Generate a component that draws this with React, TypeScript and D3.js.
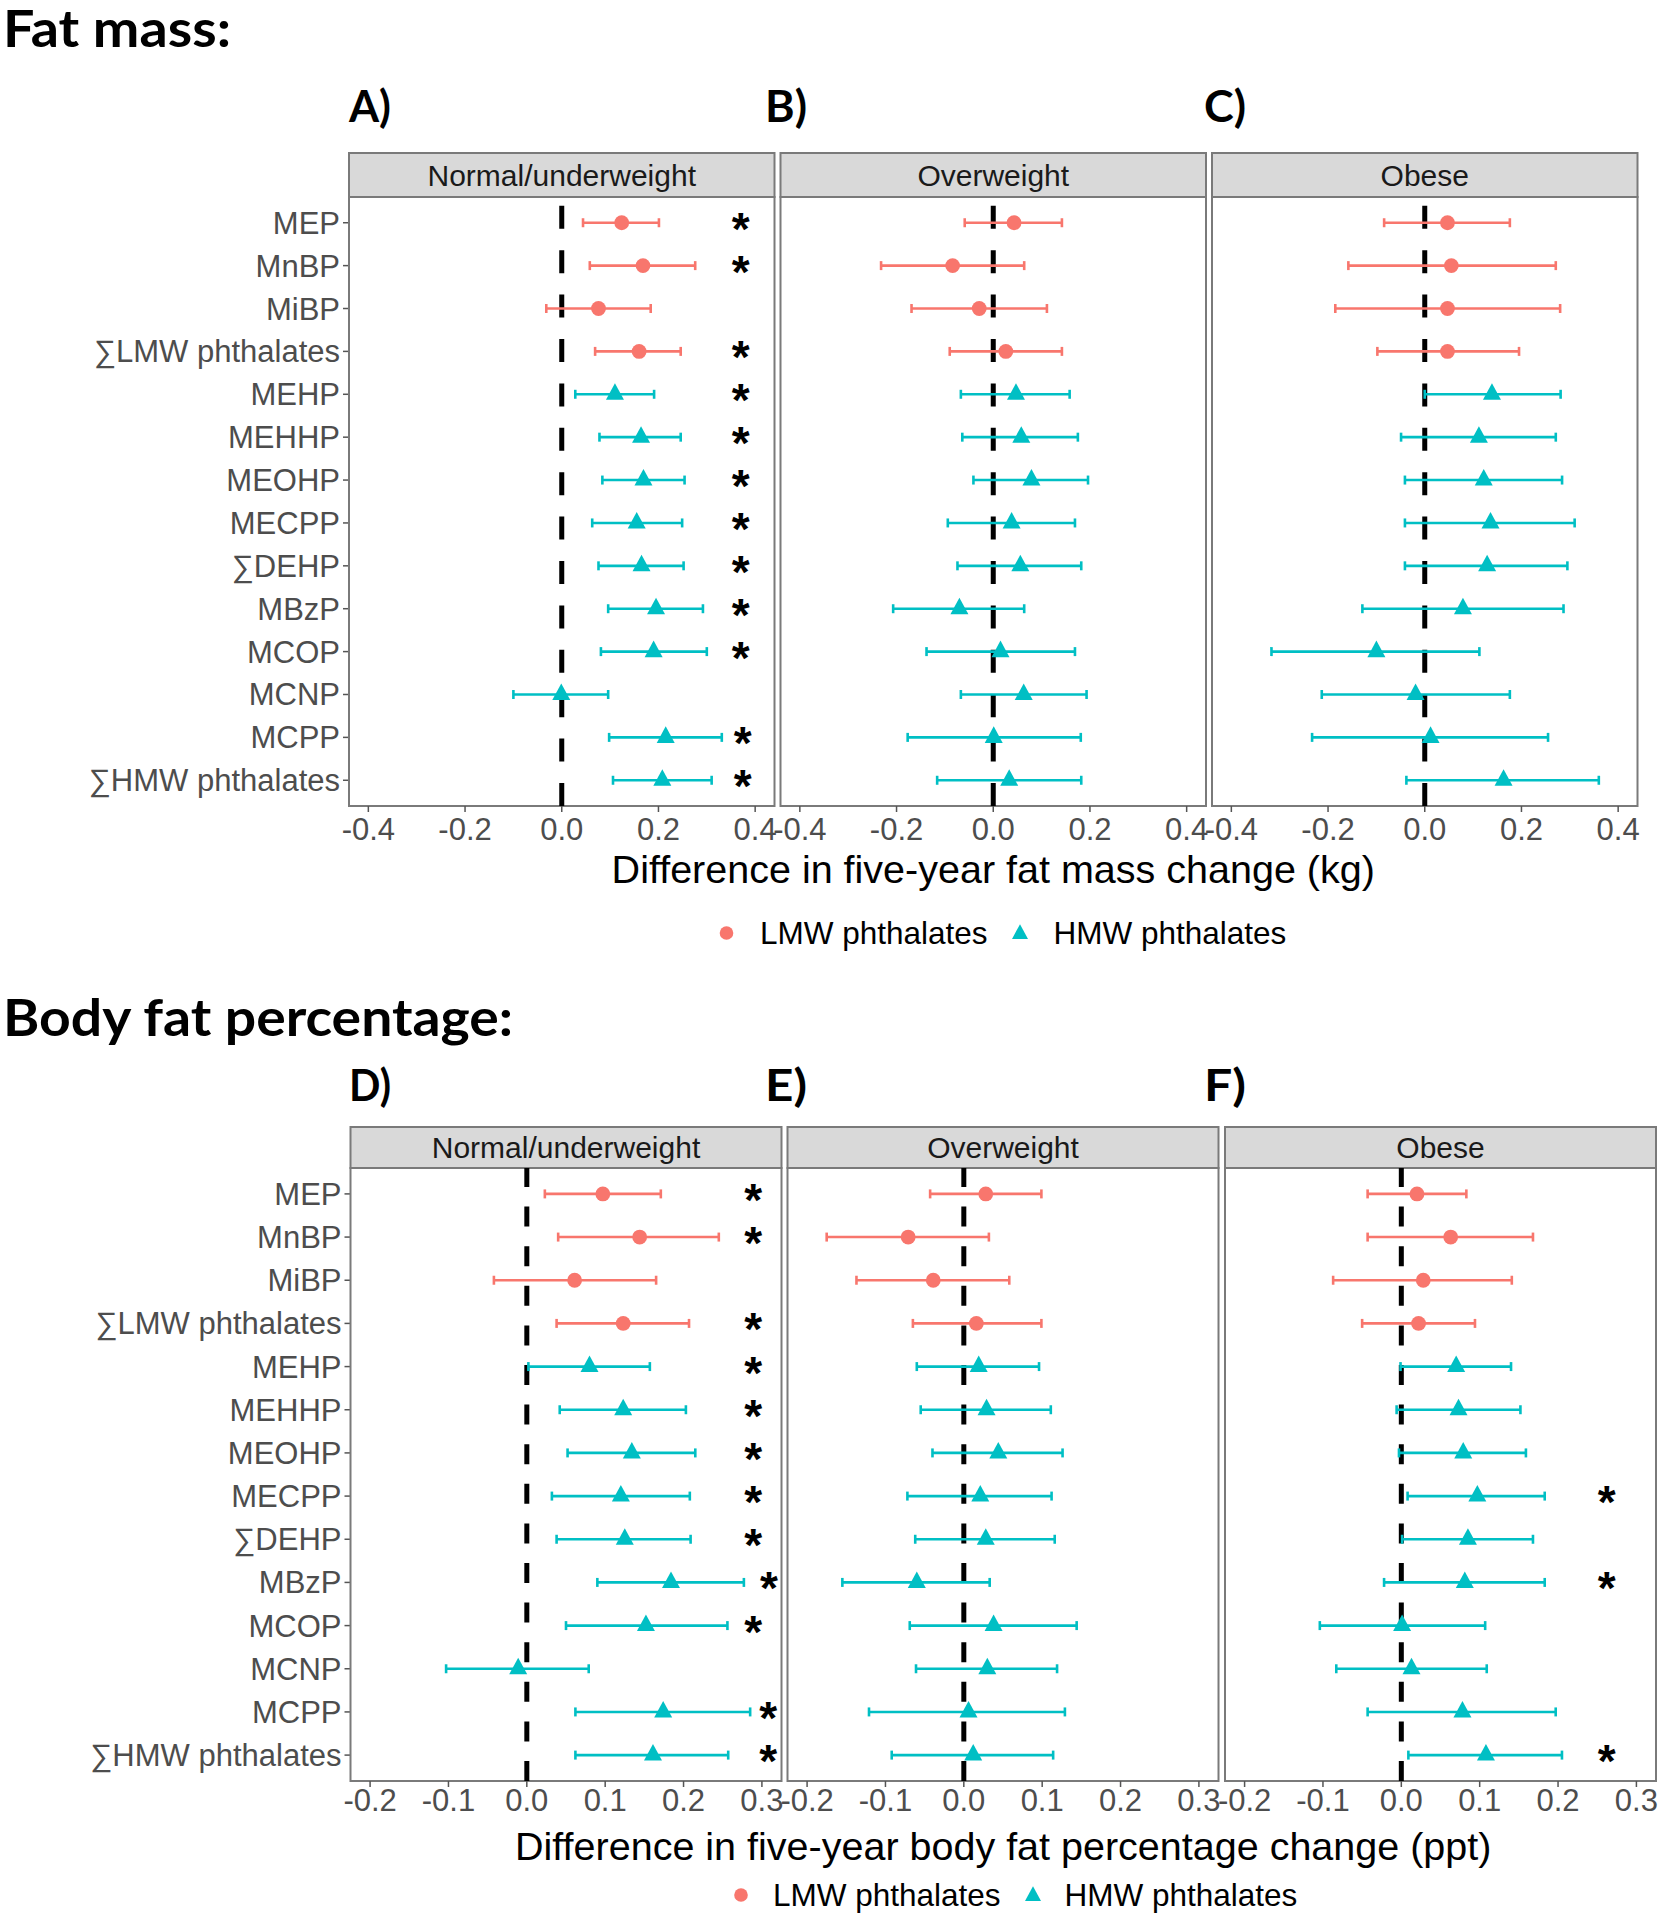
import React from "react";
import * as d3 from "d3";

// ---------- data ----------
const categories = [
  "MEP", "MnBP", "MiBP", "∑LMW phthalates", "MEHP", "MEHHP", "MEOHP",
  "MECPP", "∑DEHP", "MBzP", "MCOP", "MCNP", "MCPP", "∑HMW phthalates",
];
const groupOf = ["LMW", "LMW", "LMW", "LMW", "HMW", "HMW", "HMW", "HMW", "HMW", "HMW", "HMW", "HMW", "HMW", "HMW"];
const strata = ["Normal/underweight", "Overweight", "Obese"];
const legendLabels = ["LMW phthalates", "HMW phthalates"];

const fmTicks = [-0.4, -0.2, 0, 0.2, 0.4];
const bfTicks = [-0.2, -0.1, 0, 0.1, 0.2, 0.3];

// Fat mass – Normal/underweight
const fmNormEst = [0.124, 0.168, 0.076, 0.160, 0.110, 0.164, 0.169, 0.155, 0.165, 0.195, 0.190, -0.001, 0.215, 0.208];
const fmNormLo = [0.044, 0.058, -0.032, 0.069, 0.028, 0.078, 0.084, 0.063, 0.076, 0.096, 0.081, -0.100, 0.098, 0.106];
const fmNormHi = [0.201, 0.276, 0.184, 0.246, 0.191, 0.246, 0.254, 0.249, 0.252, 0.292, 0.300, 0.096, 0.331, 0.310];
const fmNormStar = [0.37, 0.37, null, 0.37, 0.37, 0.37, 0.37, 0.37, 0.37, 0.37, 0.37, null, 0.374, 0.374];
// Fat mass – Overweight
const fmOverEst = [0.043, -0.084, -0.029, 0.026, 0.047, 0.058, 0.079, 0.038, 0.056, -0.070, 0.015, 0.063, 0.001, 0.033];
const fmOverLo = [-0.059, -0.232, -0.169, -0.090, -0.067, -0.064, -0.041, -0.094, -0.074, -0.207, -0.138, -0.067, -0.177, -0.116];
const fmOverHi = [0.142, 0.064, 0.111, 0.142, 0.158, 0.175, 0.196, 0.169, 0.182, 0.064, 0.169, 0.193, 0.181, 0.182];
const fmOverStar = [null, null, null, null, null, null, null, null, null, null, null, null, null, null];
// Fat mass – Obese
const fmObEst = [0.047, 0.055, 0.047, 0.047, 0.139, 0.112, 0.122, 0.136, 0.129, 0.079, -0.100, -0.019, 0.012, 0.163];
const fmObLo = [-0.084, -0.158, -0.185, -0.098, 0.000, -0.049, -0.041, -0.041, -0.041, -0.129, -0.317, -0.213, -0.233, -0.038];
const fmObHi = [0.176, 0.271, 0.280, 0.195, 0.281, 0.271, 0.284, 0.310, 0.295, 0.287, 0.113, 0.176, 0.255, 0.360];
const fmObStar = [null, null, null, null, null, null, null, null, null, null, null, null, null, null];

// Body fat % – Normal/underweight
const bfNormEst = [0.097, 0.144, 0.061, 0.123, 0.080, 0.123, 0.134, 0.120, 0.125, 0.184, 0.152, -0.011, 0.174, 0.161];
const bfNormLo = [0.023, 0.040, -0.042, 0.038, 0.002, 0.042, 0.052, 0.032, 0.038, 0.090, 0.050, -0.103, 0.062, 0.062];
const bfNormHi = [0.171, 0.245, 0.165, 0.207, 0.157, 0.203, 0.215, 0.208, 0.209, 0.277, 0.256, 0.079, 0.285, 0.257];
const bfNormStar = [0.289, 0.289, null, 0.289, 0.289, 0.289, 0.289, 0.289, 0.289, 0.309, 0.289, null, 0.308, 0.308];
// Body fat % – Overweight
const bfOverEst = [0.028, -0.071, -0.039, 0.016, 0.019, 0.029, 0.044, 0.021, 0.028, -0.060, 0.038, 0.030, 0.006, 0.012];
const bfOverLo = [-0.043, -0.175, -0.137, -0.065, -0.060, -0.055, -0.040, -0.072, -0.062, -0.155, -0.069, -0.061, -0.121, -0.092];
const bfOverHi = [0.099, 0.032, 0.058, 0.099, 0.096, 0.111, 0.126, 0.112, 0.116, 0.033, 0.144, 0.119, 0.129, 0.114];
const bfOverStar = [null, null, null, null, null, null, null, null, null, null, null, null, null, null];
// Body fat % – Obese
const bfObEst = [0.020, 0.063, 0.028, 0.022, 0.070, 0.073, 0.079, 0.097, 0.085, 0.081, 0.001, 0.013, 0.078, 0.108];
const bfObLo = [-0.043, -0.043, -0.087, -0.050, -0.001, -0.006, -0.003, 0.008, 0.001, -0.022, -0.104, -0.083, -0.043, 0.009];
const bfObHi = [0.083, 0.168, 0.141, 0.094, 0.140, 0.152, 0.159, 0.183, 0.168, 0.183, 0.107, 0.109, 0.197, 0.205];
const bfObStar = [null, null, null, null, null, null, null, 0.262, null, 0.262, null, null, null, 0.262];

// ---------- style ----------
const RED = "#F8766D";
const TEAL = "#00BFC4";
const SANS = "'Liberation Sans', Arial, sans-serif";
const TITLE_FONT = "Lato, 'Open Sans', sans-serif";
const colorScale = d3.scaleOrdinal<string, string>().domain(["LMW", "HMW"]).range([RED, TEAL]);

type PanelData = { est: number[]; lo: number[]; hi: number[]; star: (number | null)[] };

function Triangle({ x, y, w, fill }: { x: number; y: number; w: number; fill: string }) {
  const h = w * 0.92;
  const p = `M${x},${y - (2 / 3) * h} L${x + w / 2},${y + h / 3} L${x - w / 2},${y + h / 3} Z`;
  return <path d={p} fill={fill} />;
}

function Section(props: {
  title: string;
  titleLen: number;
  titleBase: number;
  letters: string[];
  letterX: number[];
  letterBase: number;
  panelX: number[];
  panelW: number;
  stripTop: number;
  panelTop: number;
  panelBottom: number;
  domain: [number, number];
  ticks: number[];
  dash: string;
  tickBase: number;
  axisTitle: string;
  axisBase: number;
  legendY: number;
  legendX: number[];
  panels: PanelData[];
}) {
  const p = props;
  const y = d3.scalePoint<string>().domain(categories).range([p.panelTop, p.panelBottom]).padding(0.6);
  const fmt = (t: number) => t.toFixed(1);
  const centerX = (p.panelX[0] + p.panelX[2] + p.panelW) / 2;
  return (
    <g>
      <text x={3} y={p.titleBase} fontFamily={TITLE_FONT} fontWeight={700} fontSize={52}
        textLength={p.titleLen} lengthAdjust="spacingAndGlyphs" fill="#000">{p.title}</text>
      {p.letters.map((L, i) => (
        <text key={L} x={p.letterX[i]} y={p.letterBase} fontFamily={TITLE_FONT} fontWeight={700}
          fontSize={44} textLength={42} lengthAdjust="spacingAndGlyphs" fill="#000">{L}</text>
      ))}
      {/* y axis labels */}
      {categories.map((c) => (
        <g key={c}>
          <text x={p.panelX[0] - 9} y={(y(c) as number) + 11} textAnchor="end" fontFamily={SANS}
            fontSize={31} fill="#4D4D4D">{c}</text>
          <line x1={p.panelX[0] - 6} x2={p.panelX[0]} y1={y(c)} y2={y(c)} stroke="#555" strokeWidth={1.5} />
        </g>
      ))}
      {p.panels.map((pd, k) => {
        const x0 = p.panelX[k];
        const x = d3.scaleLinear().domain(p.domain).range([x0, x0 + p.panelW]);
        return (
          <g key={k}>
            {/* strip */}
            <rect x={x0} y={p.stripTop} width={p.panelW} height={p.panelTop - p.stripTop}
              fill="#D9D9D9" stroke="#7a7a7a" strokeWidth={2} />
            <text x={x0 + p.panelW / 2} y={(p.stripTop + p.panelTop) / 2 + 10.5} textAnchor="middle"
              fontFamily={SANS} fontSize={30} fill="#1A1A1A">{strata[k]}</text>
            {/* panel */}
            <rect x={x0} y={p.panelTop} width={p.panelW} height={p.panelBottom - p.panelTop}
              fill="#fff" stroke="#7a7a7a" strokeWidth={2} />
            {/* zero line */}
            <line x1={x(0)} x2={x(0)} y1={p.panelBottom} y2={p.panelTop} stroke="#000"
              strokeWidth={5} strokeDasharray={p.dash} />
            {/* error bars and points */}
            {categories.map((c, i) => {
              const col = colorScale(groupOf[i]);
              const yy = y(c) as number;
              return (
                <g key={c}>
                  <line x1={x(pd.lo[i])} x2={x(pd.hi[i])} y1={yy} y2={yy} stroke={col} strokeWidth={2.6} />
                  <line x1={x(pd.lo[i])} x2={x(pd.lo[i])} y1={yy - 4.5} y2={yy + 4.5} stroke={col} strokeWidth={2.6} />
                  <line x1={x(pd.hi[i])} x2={x(pd.hi[i])} y1={yy - 4.5} y2={yy + 4.5} stroke={col} strokeWidth={2.6} />
                  {groupOf[i] === "LMW" ? (
                    <circle cx={x(pd.est[i])} cy={yy} r={7.4} fill={col} />
                  ) : (
                    <Triangle x={x(pd.est[i])} y={yy} w={18} fill={col} />
                  )}
                  {pd.star[i] !== null && (
                    <text x={x(pd.star[i] as number)} y={yy + 22} textAnchor="middle" fontFamily={SANS}
                      fontWeight={700} fontSize={46} fill="#000">*</text>
                  )}
                </g>
              );
            })}
            {/* x ticks */}
            {p.ticks.map((t) => (
              <g key={t}>
                <line x1={x(t)} x2={x(t)} y1={p.panelBottom} y2={p.panelBottom + 6} stroke="#555" strokeWidth={1.5} />
                <text x={x(t)} y={p.tickBase} textAnchor="middle" fontFamily={SANS} fontSize={31}
                  fill="#4D4D4D">{fmt(t)}</text>
              </g>
            ))}
          </g>
        );
      })}
      <text x={centerX} y={p.axisBase} textAnchor="middle" fontFamily={SANS} fontSize={39.5} fill="#000">
        {p.axisTitle}
      </text>
      {/* legend */}
      <circle cx={p.legendX[0]} cy={p.legendY} r={6.8} fill={RED} />
      <text x={p.legendX[1]} y={p.legendY + 11} fontFamily={SANS} fontSize={31.5} fill="#000">{legendLabels[0]}</text>
      <Triangle x={p.legendX[2]} y={p.legendY + 1} w={16} fill={TEAL} />
      <text x={p.legendX[3]} y={p.legendY + 11} fontFamily={SANS} fontSize={31.5} fill="#000">{legendLabels[1]}</text>
    </g>
  );
}

export default function App() {
  const fmPanels: PanelData[] = [
    { est: fmNormEst, lo: fmNormLo, hi: fmNormHi, star: fmNormStar },
    { est: fmOverEst, lo: fmOverLo, hi: fmOverHi, star: fmOverStar },
    { est: fmObEst, lo: fmObLo, hi: fmObHi, star: fmObStar },
  ];
  const bfPanels: PanelData[] = [
    { est: bfNormEst, lo: bfNormLo, hi: bfNormHi, star: bfNormStar },
    { est: bfOverEst, lo: bfOverLo, hi: bfOverHi, star: bfOverStar },
    { est: bfObEst, lo: bfObLo, hi: bfObHi, star: bfObStar },
  ];
  return (
    <svg width={1663} height={1920} style={{ position: "absolute", left: 0, top: 0, background: "#fff" }}>
      <rect x={0} y={0} width={1663} height={1920} fill="#fff" />
      <Section
        title="Fat mass:" titleLen={228} titleBase={47}
        letters={["A)", "B)", "C)"]} letterX={[349, 765, 1204]} letterBase={122}
        panelX={[349, 780.5, 1212]} panelW={425.5}
        stripTop={153} panelTop={197} panelBottom={806}
        domain={[-0.44, 0.44]} ticks={fmTicks} dash="23 21.4"
        tickBase={840} axisTitle="Difference in five-year fat mass change (kg)" axisBase={883}
        legendY={933} legendX={[726.5, 760, 1020, 1053.5]}
        panels={fmPanels}
      />
      <Section
        title="Body fat percentage:" titleLen={510} titleBase={1036}
        letters={["D)", "E)", "F)"]} letterX={[349, 765, 1204]} letterBase={1101}
        panelX={[350.5, 787.5, 1225]} panelW={431}
        stripTop={1127} panelTop={1168} panelBottom={1781}
        domain={[-0.225, 0.325]} ticks={bfTicks} dash="20 19.6"
        tickBase={1811} axisTitle="Difference in five-year body fat percentage change (ppt)" axisBase={1860}
        legendY={1895} legendX={[741, 773, 1033, 1064.5]}
        panels={bfPanels}
      />
    </svg>
  );
}
